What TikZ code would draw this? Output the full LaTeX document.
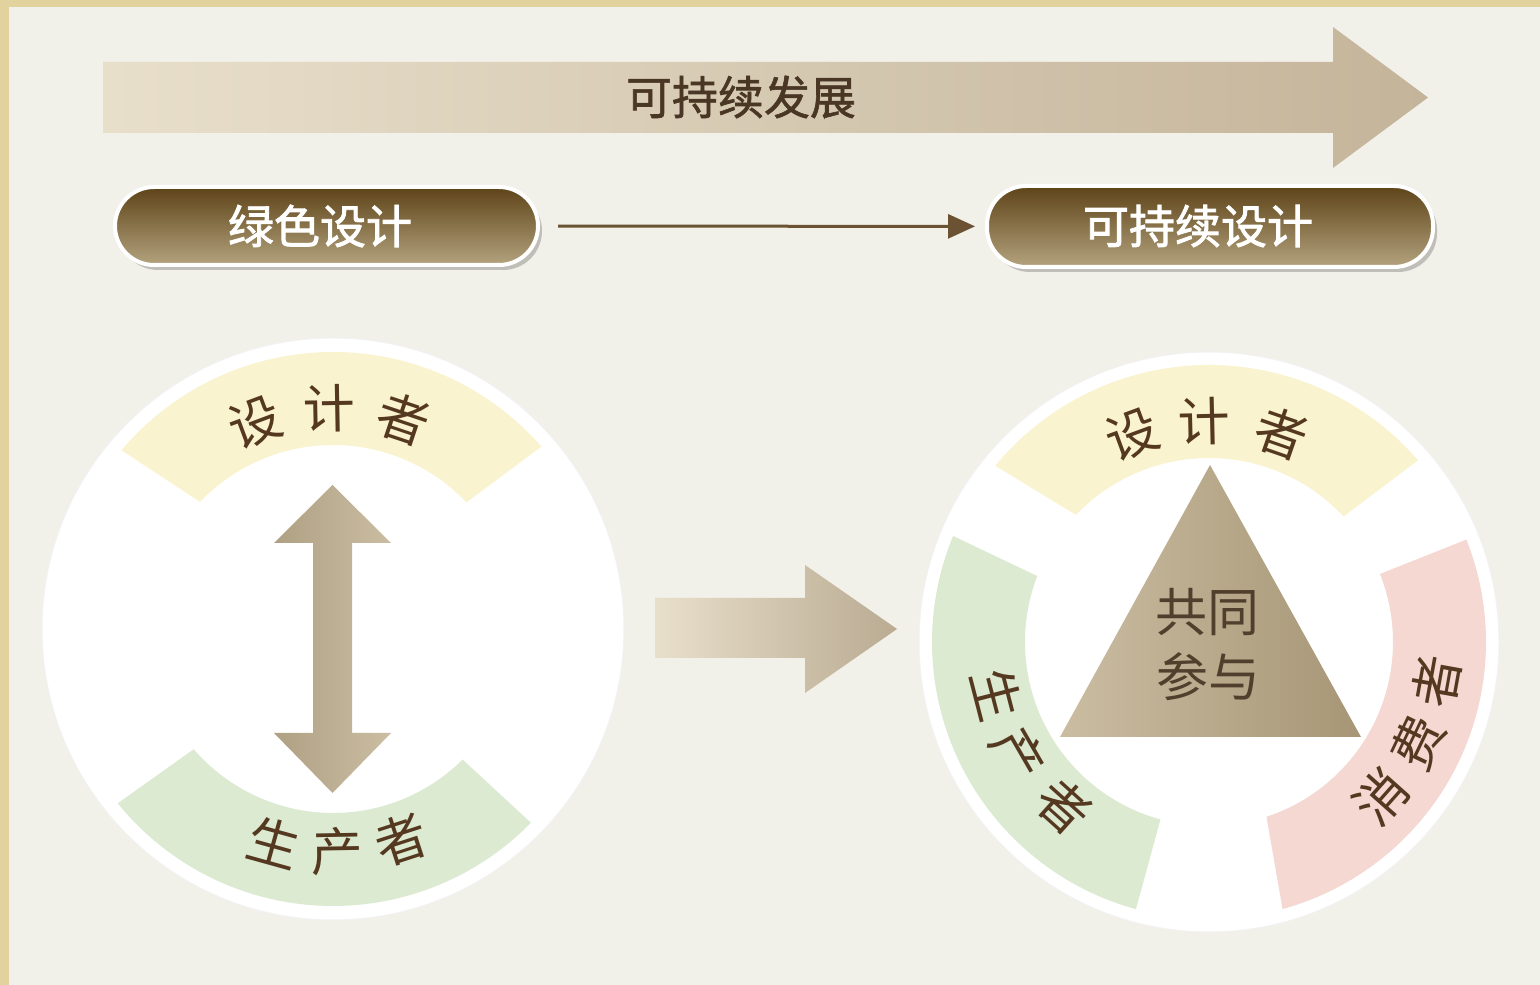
\documentclass[tikz,border=0pt]{standalone}
\usepackage{fontspec}
\newfontfamily\cjk{Noto Sans CJK SC}
\newfontfamily\cjkm[FakeBold=1.3]{Noto Sans CJK SC}
\newfontfamily\cjkp[FakeBold=1.8]{Noto Sans CJK SC}
\usetikzlibrary{calc,arrows.meta,shadows}
\definecolor{parch}{HTML}{E2D39E}
\definecolor{panel}{HTML}{F1F0E9}
\definecolor{arrL}{HTML}{E8DFCB}
\definecolor{arrR}{HTML}{C4B49A}
\definecolor{pillTop}{HTML}{5E4318}
\definecolor{pillBot}{HTML}{B3A37E}
\definecolor{conncol}{HTML}{6B5232}
\definecolor{bandY}{HTML}{FAF3CF}
\definecolor{bandG}{HTML}{DCEAD2}
\definecolor{bandP}{HTML}{F4D8D1}
\definecolor{arcbrown}{HTML}{553820}
\definecolor{titlebrown}{HTML}{4A3624}
\definecolor{triL}{HTML}{CBBDA2}
\definecolor{triR}{HTML}{A69676}
\definecolor{tritext}{HTML}{513F2D}
\tikzset{
  toptext/.style={font=\cjkm\fontsize{46}{46}\selectfont, text=titlebrown, inner sep=0pt},
  pillbox/.style={draw=white, line width=4pt, rounded corners=39pt, top color=pillTop, bottom color=pillBot,
     drop shadow={shadow xshift=4pt, shadow yshift=-5pt, opacity=.3, fill=black!70}},
  pilltext/.style={font=\cjkp\fontsize{46}{46}\selectfont, text=white, inner sep=0pt},
  conn/.style={draw=conncol, line width=3pt, -{Triangle[length=27pt,width=24pt]}},
  arctext/.style={font=\cjk\fontsize{52}{52}\selectfont, text=arcbrown, inner sep=0pt},
  tritxt/.style={font=\cjk\fontsize{52}{52}\selectfont, text=tritext, inner sep=0pt},
  ring/.style={fill=white, draw=black!5, line width=1pt},
}
\newcommand{\bandseg}[7]{% center, outer a1, outer a2, inner b1, inner b2, colour
  \fill[#6] ($(#1)+(#2:277)$) arc[start angle=#2, end angle=#3, radius=277]
     -- ($(#1)+(#5:184)$) arc[start angle=#5, end angle=#4, radius=184] -- cycle;}
\begin{document}
\begin{tikzpicture}[x=1pt,y=1pt]
\useasboundingbox (0,0) rectangle (1540,985);
\fill[parch] (0,0) rectangle (1540,985);
\fill[panel] (9,0) rectangle (1540,978);

% top arrow
\shade[left color=arrL, right color=arrR] (103,852) -- (1333,852) -- (1333,817) -- (1428,887.5)
   -- (1333,958) -- (1333,923) -- (103,923) -- cycle;
\node[toptext] (title) at (741,888) {可持续发展};

% pills
\node[pillbox, minimum width=423pt, minimum height=78pt] (p1) at (326.5,759) {};
\node[pillbox, minimum width=446pt, minimum height=81pt] (p2) at (1210,758.5) {};
\node[pilltext] (t1) at (320,759) {绿色设计};
\node[pilltext] (t2) at (1198,759) {可持续设计};
\draw[conn, shorten <=18pt, shorten >=10pt] (p1) -- (p2);

% left circle
\coordinate (L) at (333,356);
\fill[ring] (L) circle[radius=291];
\bandseg{L}{41.2}{139.8}{43.5}{136.3}{bandY}{}
\bandseg{L}{-44.4}{-141}{-45.2}{-139.2}{bandG}{}
\shade[left color=triR!90, right color=triL] (313,442) -- (274,442) -- (332.5,500) -- (391,442) -- (352,442)
   -- (352,252) -- (391,252) -- (332.5,192) -- (274,252) -- (313,252) -- cycle;
\node[arctext, rotate=20.5] (l1) at ($(L)+(110.5:221)$) {设};
\node[arctext, rotate=1]    (l2) at ($(L)+(91:221)$) {计};
\node[arctext, rotate=-18.5] (l3) at ($(L)+(71.5:221)$) {者};
\node[arctext, rotate=-15.5] (l4) at ($(L)+(-105.5:222)$) {生};
\node[arctext, rotate=1]     (l5) at ($(L)+(-89:222)$) {产};
\node[arctext, rotate=18]    (l6) at ($(L)+(-72:222)$) {者};

% middle arrow
\shade[left color=arrL, right color=arrR!95!black] (655,387) -- (805,387) -- (805,420) -- (897,356)
   -- (805,292) -- (805,327) -- (655,327) -- cycle;

% right circle
\coordinate (R) at (1209,343);
\fill[ring] (R) circle[radius=290];
\bandseg{R}{41}{140.5}{43}{136.3}{bandY}{}
\bandseg{R}{254.7}{157.5}{254.7}{159}{bandG}{}
\bandseg{R}{21.7}{-74.6}{21.7}{-71.8}{bandP}{}
\shade[left color=triL, right color=triR] (1210,520) -- (1060,248) -- (1361,248) -- cycle;
\node[tritxt] (c1) at (1207,373) {共同};
\node[tritxt] (c2) at (1208,308) {参与};
\node[arctext, rotate=20.2]  (r1) at ($(R)+(110.2:221)$) {设};
\node[arctext, rotate=1.3]   (r2) at ($(R)+(91.3:221)$) {计};
\node[arctext, rotate=-19.1] (r3) at ($(R)+(70.9:221)$) {者};
\node[arctext, rotate=-75.5] (g1) at ($(R)+(194:219)$) {生};
\node[arctext, rotate=-60]   (g2) at ($(R)+(210.5:221)$) {产};
\node[arctext, rotate=-42]   (g3) at ($(R)+(228.5:219)$) {者};
\node[arctext, rotate=48.3]  (k1) at ($(R)+(-42:231)$) {消};
\node[arctext, rotate=64.4]  (k2) at ($(R)+(-25.6:232)$) {费};
\node[arctext, rotate=79.8]  (k3) at ($(R)+(-9.8:231)$) {者};
\end{tikzpicture}
\end{document}
